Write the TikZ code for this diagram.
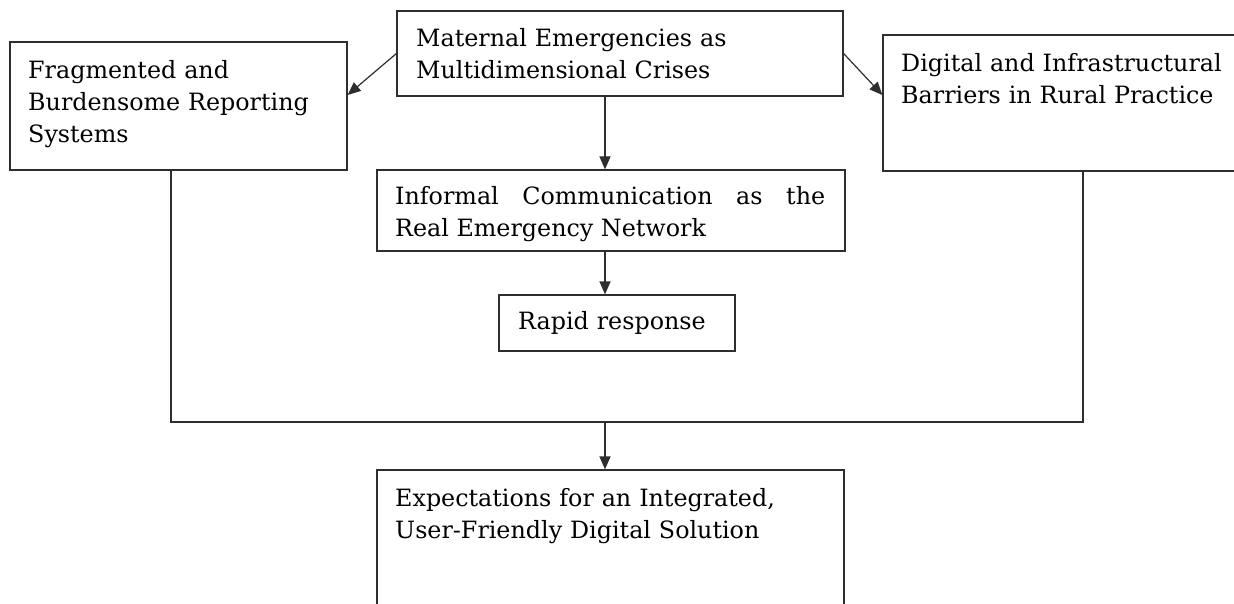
\documentclass[tikz,border=0pt]{standalone}
\usepackage{fontspec}
\setmainfont{DejaVu Serif}
\usetikzlibrary{arrows.meta}
\definecolor{linegray}{HTML}{2E2E2E}
\begin{document}
\begin{tikzpicture}[x=1pt,y=-1pt,
  box/.style={draw=linegray, line width=1.2pt, rectangle, inner sep=0pt},
  txt/.style={anchor=base west, inner sep=0pt, align=left, text width=#1,
    font=\fontsize{23.8}{32}\selectfont},
  conn/.style={draw=linegray, line width=1.2pt},
  arr/.style={conn, -{Triangle[length=13pt,width=11pt]}}]
\clip (0,0) rectangle (1234,604);
\fill[white] (0,0) rectangle (1234,604);
% boxes
\node[box, minimum width=337pt, minimum height=128pt] (lb) at (178.5,106) {};
\node[box, minimum width=446pt, minimum height=85pt] (tb) at (620,53.5) {};
\node[box, minimum width=387pt, minimum height=136pt] (rb) at (1076.5,103) {};
\node[box, minimum width=468pt, minimum height=81pt] (ib) at (611,210.5) {};
\node[box, minimum width=236pt, minimum height=56pt] (rr) at (617,323) {};
\node[box, minimum width=467pt, minimum height=170pt] (bb) at (610.5,555) {};
% texts
\node[txt=320pt] (lbt) at (28,79) {Fragmented and\\Burdensome Reporting\\Systems};
\node[txt=420pt] (tbt) at (416,47) {Maternal Emergencies as\\Multidimensional Crises};
\node[txt=340pt] (rbt) at (901,72) {Digital and Infrastructural\\Barriers in Rural Practice};
\node[txt=430pt, align=justify] (ibt) at (395,205) {Informal Communication as the\linebreak Real Emergency Network};
\node[txt=210pt] (rrt) at (518,329) {Rapid response};
\node[txt=440pt] (bbt) at (395,506) {Expectations for an Integrated,\\User-Friendly Digital Solution};
% helper coordinates
\coordinate (cx) at (605,0);
\coordinate (lx) at (171,0);
\coordinate (rx) at (1083,0);
\coordinate (jn) at (605,422);
% connectors
\draw[arr] (tb.west) -- ([yshift=11pt]lb.east);
\draw[arr] (tb.east) -- ([yshift=8pt]rb.west);
\draw[arr] (tb.south -| cx) -- (ib.north -| cx);
\draw[arr] (ib.south -| cx) -- (rr.north -| cx);
\draw[conn] (lb.south -| lx) |- (jn) -| (rb.south -| rx);
\draw[arr] (jn) -- (bb.north -| cx);
\end{tikzpicture}
\end{document}
